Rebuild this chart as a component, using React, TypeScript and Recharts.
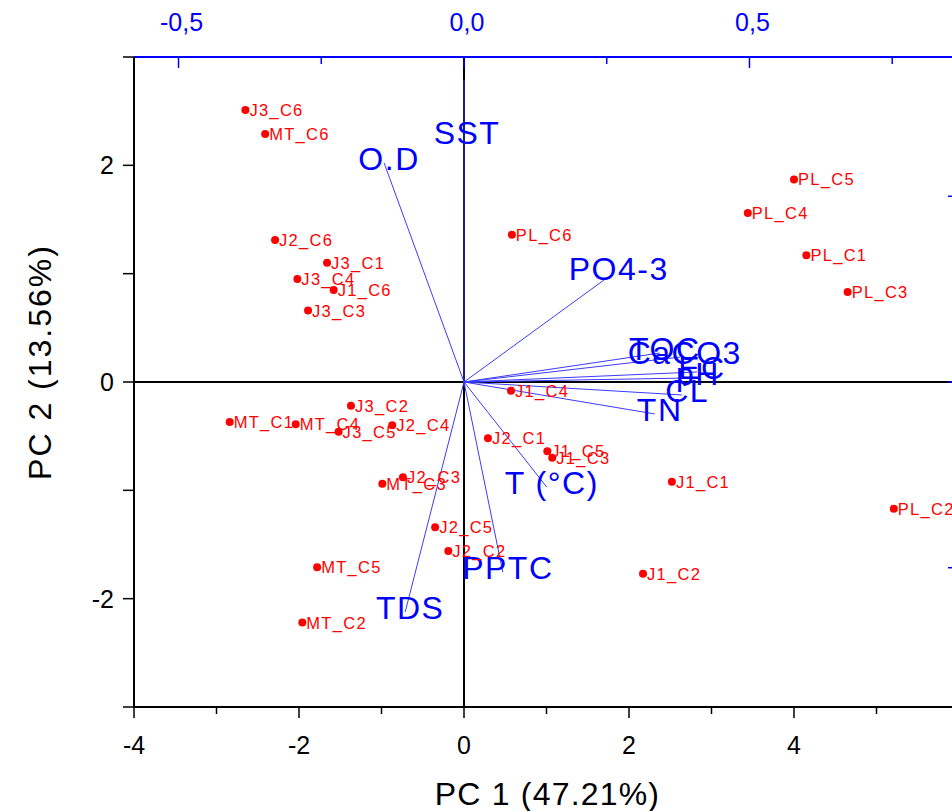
import React from "react";
import { ScatterChart, Scatter, XAxis, YAxis, ReferenceLine } from "recharts";

// PCA scores (samples)
const sampleNames = [
  "J3_C6", "MT_C6", "J2_C6", "J3_C1", "J3_C4", "J1_C6", "J3_C3", "PL_C6", "J1_C4", "PL_C5",
  "PL_C4", "PL_C1", "PL_C3", "J3_C2", "MT_C1", "MT_C4", "J3_C5", "J2_C4", "J2_C3", "MT_C3",
  "J2_C5", "J2_C2", "MT_C5", "MT_C2", "J2_C1", "J1_C5", "J1_C3", "J1_C1", "PL_C2", "J1_C2",
];
const pc1Scores = [
  -2.65, -2.41, -2.29, -1.66, -2.02, -1.58, -1.89, 0.58, 0.57, 4.0,
  3.44, 4.15, 4.65, -1.37, -2.84, -2.04, -1.52, -0.87, -0.74, -0.99,
  -0.35, -0.19, -1.78, -1.96, 0.29, 1.01, 1.07, 2.52, 5.21, 2.17,
];
const pc2Scores = [
  2.51, 2.29, 1.31, 1.1, 0.95, 0.85, 0.66, 1.36, -0.08, 1.87,
  1.56, 1.17, 0.83, -0.22, -0.37, -0.39, -0.46, -0.4, -0.88, -0.94,
  -1.34, -1.56, -1.71, -2.22, -0.52, -0.64, -0.7, -0.92, -1.17, -1.77,
];

// loadings (variables)
const variableNames = ["O.D", "SST", "PO4-3", "TOC", "CaCO3", "pH", "EC", "CL", "TN", "T (°C)", "PPTC", "TDS"];
const loadingX = [-0.14, 0, 0.25, 0.343, 0.378, 0.401, 0.408, 0.382, 0.334, 0.145, 0.068, -0.103];
const loadingY = [0.59, 0.813, 0.28, 0.078, 0.067, 0.011, 0.027, -0.035, -0.086, -0.283, -0.512, -0.619];

const pc1Ticks = [-4, -3, -2, -1, 0, 1, 2, 3, 4, 5, 6];
const pc2Ticks = [-3, -2, -1, 0, 1, 2, 3];
const loadXTicks = [-0.5, -0.25, 0, 0.25, 0.5, 0.75];
const loadYTicks = [-0.75, -0.5, -0.25, 0, 0.25, 0.5, 0.75];

const FONT = "Arial, 'Liberation Sans', sans-serif";
const BLUE = "#0000ff";
const RED = "#ff0000";

const samples = sampleNames.map((name, i) => ({ name, x: pc1Scores[i], y: pc2Scores[i] }));
const variables = variableNames.map((name, i) => ({ name, x: loadingX[i], y: loadingY[i] }));

// label offsets from the arrow tip (SST label sits lower than its tip in the original)
const labelShift: Record<string, [number, number]> = { SST: [3, 53], "PO4-3": [12, -9] };

const isHalf = (v: number) => Math.abs(v * 2 - Math.round(v * 2)) < 1e-6;

const BottomTick = (props: any) => {
  const { x, y, payload } = props;
  const major = payload.value % 2 === 0;
  return (
    <g>
      <line x1={x} x2={x} y1={y} y2={y + (major ? 11 : 7)} stroke="#000" strokeWidth={1.5} />
      {major && (
        <text x={x} y={y + 38} textAnchor="middle" dominantBaseline="central" fontSize={25} fontFamily={FONT} fill="#000">
          {payload.value}
        </text>
      )}
    </g>
  );
};

const LeftTick = (props: any) => {
  const { x, y, payload } = props;
  const major = payload.value % 2 === 0 && Math.abs(payload.value) < 3;
  return (
    <g>
      <line x1={x - 11} x2={x} y1={y} y2={y} stroke="#000" strokeWidth={1.5} />
      {major && (
        <text x={x - 20} y={y} textAnchor="end" dominantBaseline="central" fontSize={25} fontFamily={FONT} fill="#000">
          {payload.value}
        </text>
      )}
    </g>
  );
};

const TopTick = (props: any) => {
  const { x, y, payload } = props;
  const major = isHalf(payload.value);
  return (
    <g>
      <line x1={x} x2={x} y1={y} y2={y + (major ? 11 : 7)} stroke={BLUE} strokeWidth={1.5} />
      {major && (
        <text x={x + 3} y={y - 35} textAnchor="middle" dominantBaseline="central" fontSize={25} fontFamily={FONT} fill={BLUE}>
          {payload.value.toFixed(1).replace(".", ",")}
        </text>
      )}
    </g>
  );
};

const RightTick = (props: any) => {
  const { x, y, payload } = props;
  const major = isHalf(payload.value);
  return <line x1={x - (major ? 11 : 7)} x2={x} y1={y} y2={y} stroke={BLUE} strokeWidth={1.5} />;
};

const SampleDot = (props: any) => {
  const { cx, cy, payload } = props;
  return (
    <g>
      <circle cx={cx} cy={cy} r={4} fill={RED} />
      <text x={cx + 4} y={cy} dominantBaseline="central" fontSize={16.5} fontFamily={FONT} fill={RED} letterSpacing={1.3}>
        {payload.name}
      </text>
    </g>
  );
};

const VariableLabel = (props: any) => {
  const { cx, cy, payload } = props;
  const [dx, dy] = labelShift[payload.name] ?? [5, -4];
  return (
    <text x={cx + dx} y={cy + dy} textAnchor="middle" dominantBaseline="central" fontSize={32} fontFamily={FONT} fill={BLUE} letterSpacing={1.5}>
      {payload.name}
    </text>
  );
};

const XTitle = (props: any) => {
  const { viewBox } = props;
  return (
    <text x={viewBox.x + viewBox.width / 2 + 1} y={viewBox.y + 87} textAnchor="middle" dominantBaseline="central" fontSize={32} fontFamily={FONT} fill="#000" letterSpacing={1.2}>
      PC 1 (47.21%)
    </text>
  );
};

const YTitle = (props: any) => {
  const { viewBox } = props;
  const cx = 40;
  const cy = viewBox.y + viewBox.height / 2 - 20;
  return (
    <text x={cx} y={cy} transform={`rotate(-90, ${cx}, ${cy})`} textAnchor="middle" dominantBaseline="central" fontSize={32} fontFamily={FONT} fill="#000" letterSpacing={2}>
      PC 2 (13.56%)
    </text>
  );
};

export default function App() {
  return (
    <div style={{ position: "absolute", left: 0, top: 0, width: 952, height: 811, overflow: "hidden", background: "#fff" }}>
      <ScatterChart width={1010} height={811} margin={{ top: 7, left: 74, right: 21, bottom: 44 }} style={{ fontFamily: FONT }}>
        <XAxis
          xAxisId="pc"
          dataKey="x"
          type="number"
          orientation="bottom"
          domain={[-4, 6]}
          ticks={pc1Ticks}
          interval={0}
          tickSize={0}
          tickMargin={0}
          tickLine={false}
          tick={<BottomTick />}
          axisLine={{ stroke: "#000", strokeWidth: 2 }}
          height={60}
          allowDataOverflow
          label={<XTitle />}
        />
        <XAxis
          xAxisId="ld"
          dataKey="x"
          type="number"
          orientation="top"
          domain={[-0.578, 0.867]}
          ticks={loadXTicks}
          interval={0}
          tickSize={0}
          tickMargin={0}
          tickLine={false}
          tick={<TopTick />}
          axisLine={{ stroke: BLUE, strokeWidth: 2 }}
          height={50}
          allowDataOverflow
        />
        <YAxis
          yAxisId="pc"
          dataKey="y"
          type="number"
          orientation="left"
          domain={[-3, 3]}
          ticks={pc2Ticks}
          interval={0}
          tickSize={0}
          tickMargin={0}
          tickLine={false}
          tick={<LeftTick />}
          axisLine={{ stroke: "#000", strokeWidth: 2 }}
          width={60}
          allowDataOverflow
          label={<YTitle />}
        />
        <YAxis
          yAxisId="ld"
          dataKey="y"
          type="number"
          orientation="right"
          domain={[-0.875, 0.875]}
          ticks={loadYTicks}
          interval={0}
          tickSize={0}
          tickMargin={0}
          tickLine={false}
          tick={<RightTick />}
          axisLine={{ stroke: BLUE, strokeWidth: 2 }}
          width={30}
          allowDataOverflow
        />
        <ReferenceLine xAxisId="pc" yAxisId="pc" x={0} stroke="#000" strokeWidth={2} />
        <ReferenceLine xAxisId="pc" yAxisId="pc" y={0} stroke="#000" strokeWidth={2} />
        {variables.map((v) => (
          <ReferenceLine
            key={v.name}
            xAxisId="ld"
            yAxisId="ld"
            segment={[{ x: 0, y: 0 }, { x: v.x, y: v.y }]}
            stroke="#3b3bff"
            strokeWidth={1}
          />
        ))}
        <Scatter xAxisId="ld" yAxisId="ld" data={variables} shape={<VariableLabel />} isAnimationActive={false} />
        <Scatter xAxisId="pc" yAxisId="pc" data={samples} shape={<SampleDot />} isAnimationActive={false} />
      </ScatterChart>
    </div>
  );
}
